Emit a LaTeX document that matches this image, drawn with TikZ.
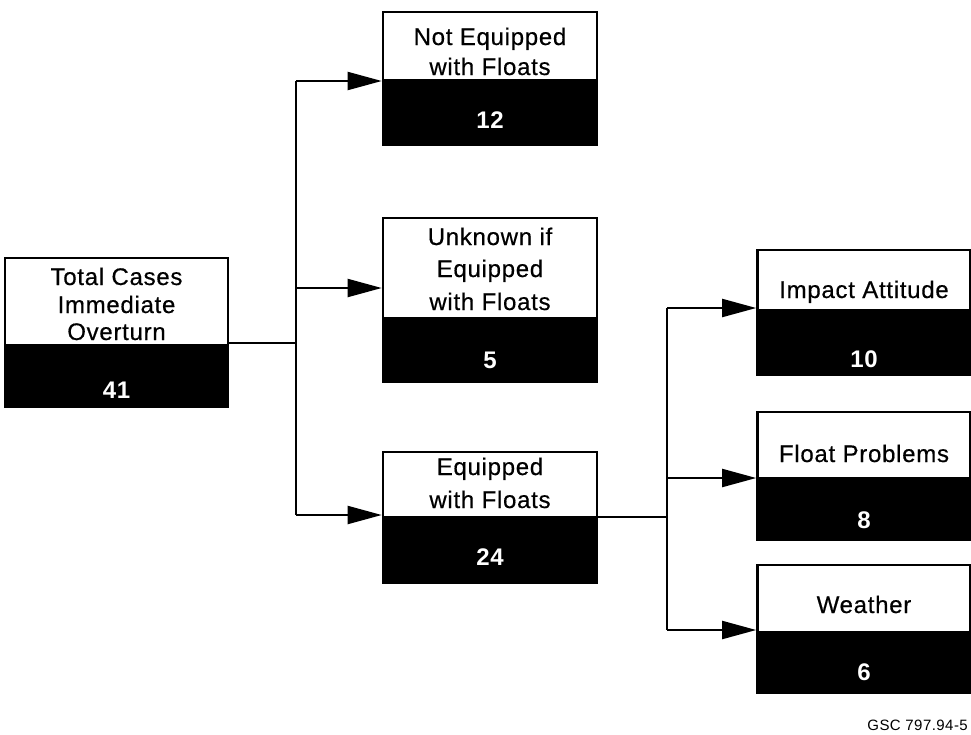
\documentclass[tikz,border=0pt]{standalone}
\usepackage{fontspec}
\setmainfont{Liberation Sans}
\newfontfamily\lblfont{Liberation Sans}[LetterSpace=3, FakeBold=0.5]
\newfontfamily\numfont{Liberation Sans}[LetterSpace=3]
\usetikzlibrary{arrows.meta}
\begin{document}
\begin{tikzpicture}[x=1pt,y=-1pt,
  wbox/.style={draw=black, line width=2.6pt, fill=white, inner sep=0pt, minimum width=#1},
  bbox/.style={draw=black, line width=2.6pt, fill=black, inner sep=0pt, minimum width=#1},
  lbl/.style={anchor=base, inner sep=0pt, font=\lblfont\fontsize{24}{28}\selectfont},
  num/.style={anchor=base, inner sep=0pt, text=white, font=\numfont\fontsize{24}{28}\selectfont\bfseries},
  conn/.style={draw=black, line width=2pt},
  arr/.style={conn, -{Triangle[length=34pt,width=18pt]}}]
\useasboundingbox (0,0) rectangle (971,734);
\fill[white] (0,0) rectangle (971,734);

% Total
\node[bbox=223pt, minimum height=62pt] (totn) at (116.5,376) {};
\node[wbox=223pt, minimum height=87pt] (tot) at (116.5,301.5) {};
\node[lbl] (tota) at (116.5,285) {Total Cases};
\node[lbl] (totb) at (116.5,313) {Immediate};
\node[lbl] (totc) at (116.5,340) {Overturn};
\node[num] (totv) at (116.5,398) {41};

% Not equipped
\node[bbox=214pt, minimum height=65pt] (nen) at (490,112.5) {};
\node[wbox=214pt, minimum height=68pt] (ne) at (490,46) {};
\node[lbl] (nea) at (490,45) {Not Equipped};
\node[lbl] (neb) at (490,75) {with Floats};
\node[num] (nev) at (490,128) {12};

% Unknown
\node[bbox=214pt, minimum height=64pt] (unn) at (490,350) {};
\node[wbox=214pt, minimum height=100pt] (un) at (490,268) {};
\node[lbl] (una) at (490,245) {Unknown if};
\node[lbl] (unb) at (490,277) {Equipped};
\node[lbl] (unc) at (490,310) {with Floats};
\node[num] (unv) at (490,368) {5};

% Equipped
\node[bbox=214pt, minimum height=66pt] (eqn) at (490,550) {};
\node[wbox=214pt, minimum height=65pt] (eq) at (490,484.5) {};
\node[lbl] (eqa) at (490,475) {Equipped};
\node[lbl] (eqb) at (490,508) {with Floats};
\node[num] (eqv) at (490,565) {24};

% Impact attitude
\node[bbox=213pt, minimum height=65pt] (imn) at (864,342.5) {};
\node[wbox=213pt, minimum height=60pt] (im) at (864,280) {};
\node[lbl] (ima) at (864,298) {Impact Attitude};
\node[num] (imv) at (864,367) {10};

% Float problems
\node[bbox=213pt, minimum height=62pt] (fpn) at (864,509) {};
\node[wbox=213pt, minimum height=66pt] (fp) at (864,445) {};
\node[lbl] (fpa) at (864,462) {Float Problems};
\node[num] (fpv) at (864,528) {8};

% Weather
\node[bbox=213pt, minimum height=61pt] (wen) at (864,662.5) {};
\node[wbox=213pt, minimum height=67pt] (we) at (864,598.5) {};
\node[lbl] (wea) at (864,613) {Weather};
\node[num] (wev) at (864,680) {6};

% connectors, first level
\coordinate (j1) at (296,343);
\coordinate (j1t) at (296,81);
\coordinate (j1m) at (296,288);
\coordinate (j1b) at (296,515);
\draw[conn] (j1 -| tot.east) -- (j1);
\draw[conn] (j1t) -- (j1b);
\draw[arr] (j1t) -- (j1t -| ne.west);
\draw[arr] (j1m) -- (j1m -| un.west);
\draw[arr] (j1b) -- (j1b -| eq.west);

% connectors, second level
\coordinate (j2) at (667,517);
\coordinate (j2t) at (667,308);
\coordinate (j2m) at (667,478);
\coordinate (j2b) at (667,630);
\draw[conn] (j2 -| eq.east) -- (j2);
\draw[conn] (j2t) -- (j2b);
\draw[arr] (j2t) -- (j2t -| im.west);
\draw[arr] (j2m) -- (j2m -| fp.west);
\draw[arr] (j2b) -- (j2b -| we.west);

\node[anchor=base east, inner sep=0pt, font=\numfont\fontsize{15}{17}\selectfont] (gsc) at (968,730) {GSC 797.94-5};
\end{tikzpicture}
\end{document}
